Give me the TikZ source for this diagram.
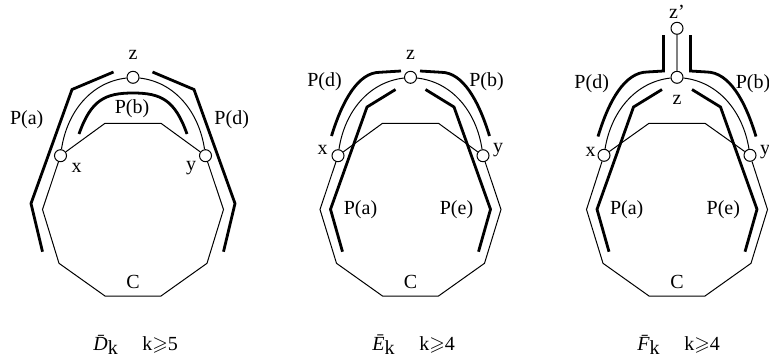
\documentclass[tikz,border=0pt]{standalone}
\usepackage{amssymb}
\usepackage{fontspec}
\setmainfont{Liberation Serif}
\begin{document}
\begin{tikzpicture}[x=0.5pt,y=-0.5pt,
  every node/.style={font=\fontsize{10}{12}\selectfont},
  vtx/.style={circle,draw,fill=white,line width=0.5pt,minimum size=6pt,inner sep=0pt},
  thinln/.style={line width=0.5pt},
  thickln/.style={line width=1.4pt},
  lbl/.style={inner sep=0pt}]
\useasboundingbox (0,0) rectangle (769,360);

% ---------- Panel 1 ----------
\begin{scope}[shift={(133,0)}]
\node[vtx] (z1) at (0,77.3) {};
\node[vtx] (x1) at (-72.5,155.7) {};
\node[vtx] (y1) at (72.5,155.7) {};
\draw[thinln] (x1) -- (-28,123.3) -- (28,123.3) -- (y1) -- (90.5,209.5) -- (74,263.3) -- (28,296) -- (-28,296) -- (-74,263.3) -- (-90.5,209.5) -- (x1);
\draw[thinln] (x1) .. controls (-66,112) and (-42,82) .. (z1);
\draw[thinln] (z1) .. controls (42,82) and (66,112) .. (y1);
\draw[thickln] (-90.5,251.7) -- (-102,203.5) -- (-61,89.5) -- (-19.5,72);
\draw[thickln] (90.5,251.7) -- (102,203.5) -- (61,89.5) -- (19.5,72);
\draw[thickln] (-54,134) .. controls (-42,100) and (-28,93) .. (0,93) .. controls (28,93) and (42,100) .. (54,134);
\node[lbl] (lz1) at (0,55) {z};
\node[lbl] (lx1) at (-56.3,168) {x};
\node[lbl] (ly1) at (58,168) {y};
\node[lbl] (lpa1) at (-106.3,120) {P(a)};
\node[lbl] (lpd1) at (98.7,120) {P(d)};
\node[lbl] (lpb1) at (-1,108.3) {P(b)};
\node[lbl] (lc1) at (0,281.7) {C};
\end{scope}

% ---------- Panel 2 ----------
\begin{scope}[shift={(410.5,0)}]
\node[vtx] (z2) at (0,77.3) {};
\node[vtx] (x2) at (-72.5,155.7) {};
\node[vtx] (y2) at (72.5,155.7) {};
\draw[thinln] (x2) -- (-28,123.3) -- (28,123.3) -- (y2) -- (90.5,209.5) -- (74,263.3) -- (28,296) -- (-28,296) -- (-74,263.3) -- (-90.5,209.5) -- (x2);
\draw[thinln] (x2) .. controls (-66,112) and (-42,82) .. (z2);
\draw[thinln] (z2) .. controls (42,82) and (66,112) .. (y2);
\draw[thickln] (-79,136) .. controls (-68,100) and (-52,72.5) .. (-31,72.3) -- (-9.5,71);
\draw[thickln] (79,136) .. controls (68,100) and (52,72.5) .. (31,72.3) -- (9.5,71);
\draw[thickln] (-15,89.5) -- (-43.5,107) -- (-80,209.3) -- (-68,251.7);
\draw[thickln] (15,89.5) -- (43.5,107) -- (80,209.3) -- (68,251.7);
\node[lbl] (lz2) at (0,55) {z};
\node[lbl] (lx2) at (-88,150) {x};
\node[lbl] (ly2) at (87.5,150) {y};
\node[lbl] (lpd2) at (-86,81.7) {P(d)};
\node[lbl] (lpb2) at (76,81.7) {P(b)};
\node[lbl] (lpa2) at (-50,210) {P(a)};
\node[lbl] (lpe2) at (46,210) {P(e)};
\node[lbl] (lc2) at (0,281.7) {C};
\end{scope}

% ---------- Panel 3 ----------
\begin{scope}[shift={(677,0)}]
\node[vtx] (z3) at (0,77.3) {};
\node[vtx] (zp3) at (0,28.3) {};
\node[vtx] (x3) at (-73,155.3) {};
\node[vtx] (y3) at (73,155.3) {};
\draw[gray,line width=0.8pt] (zp3) -- (z3);
\draw[thinln] (x3) -- (-28,123.3) -- (28,123.3) -- (y3) -- (90.5,209.5) -- (74,263.3) -- (28,296) -- (-28,296) -- (-74,263.3) -- (-90.5,209.5) -- (x3);
\draw[thinln] (x3) .. controls (-66,112) and (-42,82) .. (z3);
\draw[thinln] (z3) .. controls (42,82) and (66,112) .. (y3);
\draw[thickln] (-13.5,35) -- (-13.5,71) -- (-30,72) .. controls (-52,72.5) and (-68,100) .. (-79,136.5);
\draw[thickln] (13.5,35) -- (13.5,71) -- (30,72) .. controls (52,72.5) and (68,100) .. (79,136.5);
\draw[thickln] (-15,89.5) -- (-43.5,107) -- (-80,209.3) -- (-68,251.7);
\draw[thickln] (15,89.5) -- (43.5,107) -- (80,209.3) -- (68,251.7);
\node[lbl] (lzp3) at (0,11.7) {z’};
\node[lbl] (lz3) at (0,100) {z};
\node[lbl] (lx3) at (-86.3,151.7) {x};
\node[lbl] (ly3) at (88,151.7) {y};
\node[lbl] (lpd3) at (-85.3,83.3) {P(d)};
\node[lbl] (lpb3) at (76,83.3) {P(b)};
\node[lbl] (lpa3) at (-50.3,210) {P(a)};
\node[lbl] (lpe3) at (46.3,210) {P(e)};
\node[lbl] (lc3) at (0,281.7) {C};
\end{scope}

% ---------- captions ----------
\node[lbl,anchor=west] (cd) at (93,345) {\itshape\={D}\upshape\raisebox{-0.45ex}{k}};
\node[lbl,anchor=west] (kd) at (142,345) {k$\geqslant$5};
\node[lbl,anchor=west] (ce) at (372,345) {\itshape\={E}\upshape\raisebox{-0.45ex}{k}};
\node[lbl,anchor=west] (ke) at (419,345) {k$\geqslant$4};
\node[lbl,anchor=west] (cf) at (637,345) {\itshape\={F}\upshape\raisebox{-0.45ex}{k}};
\node[lbl,anchor=west] (kf) at (684,345) {k$\geqslant$4};
\end{tikzpicture}
\end{document}
